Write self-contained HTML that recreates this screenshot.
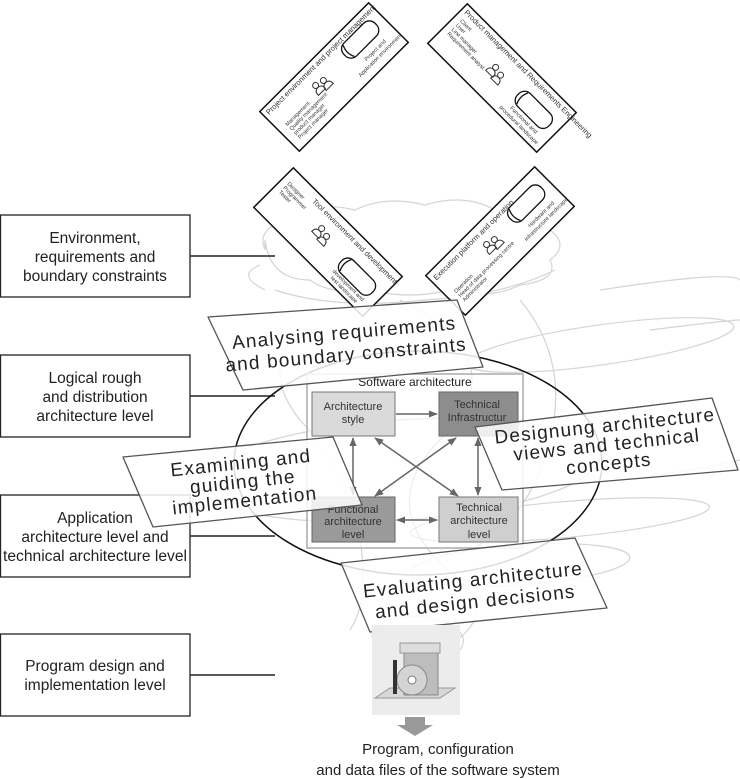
<!DOCTYPE html>
<html><head><meta charset="utf-8"><style>
html,body{margin:0;padding:0;background:#fff;}
svg{display:block;font-family:"Liberation Sans",sans-serif;}
</style></head><body>
<svg width="740" height="779" viewBox="0 0 740 779" xmlns="http://www.w3.org/2000/svg">
<defs>
<marker id="ah" viewBox="0 0 10 10" refX="9" refY="5" markerWidth="6" markerHeight="6" orient="auto-start-reverse"><path d="M0,1 L10,5 L0,9 z" fill="#666"/></marker>
<g id="person" fill="none" stroke="#333" stroke-width="1">
<circle cx="-4" cy="-5" r="3"/><path d="M-9,4 q0,-6 5,-6 q5,0 5,6 z"/>
<circle cx="5" cy="-3" r="3"/><path d="M0,6 q0,-6 5,-6 q5,0 5,6 z"/>
</g>
<g id="cyl" fill="#fff" stroke="#111" stroke-width="1.3">
<rect x="-22" y="-9" width="44" height="18" rx="8"/><path d="M-16,-8 q-4,8 0,16" fill="none"/>
</g>
</defs>

<!-- cloud swirls -->
<g fill="none" stroke="#d4d4d4" stroke-width="1.2">
<path d="M265,250 q-10,-25 30,-30 q20,-20 60,-10 q30,-15 70,-5 q40,-12 70,5 q40,-5 55,20 q20,15 0,30 q10,20 -30,25 q-30,15 -70,5 q-40,10 -80,0 q-40,5 -60,-10 q-40,0 -45,-40z"/>
<path d="M275,290 q60,20 150,10 q80,-5 130,-30"/>
<path d="M260,265 q-25,10 5,25"/>
<ellipse cx="600" cy="345" rx="135" ry="20" transform="rotate(-8 600 345)"/>
<ellipse cx="560" cy="520" rx="150" ry="18" transform="rotate(-5 560 520)"/>
<ellipse cx="520" cy="565" rx="110" ry="20" transform="rotate(-4 520 565)"/>
<path d="M400,300 q120,60 40,140 q-70,70 20,140 q40,40 -20,70"/>
<path d="M520,300 q50,60 30,140 q-20,80 -80,110"/>
<path d="M300,330 q-40,40 0,90 q40,40 60,120 q10,60 -10,90"/>
<ellipse cx="400" cy="470" rx="200" ry="50" transform="rotate(-4 400 470)"/>
<path d="M600,290 q130,-20 140,-10"/>
<path d="M650,330 q80,-10 90,-10"/>
<path d="M620,480 q80,-10 120,-20"/>
<path d="M380,650 q-20,-20 10,-30 q30,-10 60,5 q20,10 10,25"/>
</g>

<!-- left boxes -->
<g fill="#fff" stroke="#222" stroke-width="1.3">
<rect x="0.5" y="215" width="189.5" height="82"/>
<rect x="0.5" y="355" width="189.5" height="82"/>
<rect x="0.5" y="495" width="189.5" height="82"/>
<rect x="0.5" y="634" width="189.5" height="82"/>
</g>
<g stroke="#222" stroke-width="1.5">
<line x1="190" y1="256" x2="275" y2="256"/>
<line x1="190" y1="396" x2="275" y2="396"/>
<line x1="190" y1="536" x2="275" y2="536"/>
<line x1="190" y1="675" x2="275" y2="675"/>
</g>
<g font-size="15.5" fill="#222" text-anchor="middle">
<text x="95" y="243">Environment,</text><text x="95" y="262">requirements and</text><text x="95" y="281">boundary constraints</text>
<text x="95" y="383">Logical rough</text><text x="95" y="402">and distribution</text><text x="95" y="421">architecture level</text>
<text x="95" y="523">Application</text><text x="95" y="542">architecture level and</text><text x="95" y="561" textLength="184" lengthAdjust="spacingAndGlyphs">technical architecture level</text>
<text x="95" y="671">Program design and</text><text x="95" y="690">implementation level</text>
</g>

<!-- rotated cards -->
<g transform="translate(334,77) rotate(-45)">
<rect x="-77" y="-28" width="154" height="56" fill="#fff" stroke="#111" stroke-width="1.5"/>
<text x="-73" y="-19" font-size="7.5" fill="#333">Project environment and project management</text>
<use href="#person" x="-15" y="-2"/>
<use href="#cyl" x="45" y="-8"/>
<text x="48" y="12" font-size="5.5" fill="#333" text-anchor="middle">Project and</text>
<text x="48" y="19" font-size="5.5" fill="#333" text-anchor="middle">Application environment</text>
<g font-size="5.5" fill="#333"><text x="-68" y="2">Management</text><text x="-68" y="8">Quality management</text><text x="-68" y="14">product manager</text><text x="-68" y="20">Project manager</text></g>
</g>
<g transform="translate(502,78) rotate(45)">
<rect x="-77" y="-28" width="154" height="56" fill="#fff" stroke="#111" stroke-width="1.5"/>
<text x="-73" y="-19" font-size="7.5" fill="#333">Product management and Requirements Engineering</text>
<use href="#person" x="-8" y="2"/>
<use href="#cyl" x="45" y="0"/>
<text x="45" y="16" font-size="5.5" fill="#333" text-anchor="middle">Functional and</text>
<text x="45" y="23" font-size="5.5" fill="#333" text-anchor="middle">procedural landscape</text>
<g font-size="5.5" fill="#333"><text x="-70" y="-10">Client</text><text x="-70" y="-4">User</text><text x="-70" y="2">Line manager</text><text x="-70" y="8">Requirement analyst</text></g>
</g>
<g transform="translate(328,242) rotate(45)">
<rect x="-77" y="-28" width="154" height="56" fill="#fff" stroke="#111" stroke-width="1.5"/>
<text x="-40" y="-17" font-size="7.5" fill="#333">Tool environment and development</text>
<use href="#person" x="-10" y="0"/>
<use href="#cyl" x="45" y="4"/>
<text x="45" y="18" font-size="5.5" fill="#333" text-anchor="middle">development and</text>
<text x="45" y="24" font-size="5.5" fill="#333" text-anchor="middle">test landscape</text>
<g font-size="5.5" fill="#333"><text x="-70" y="-12">Designer</text><text x="-70" y="-6">Programmer</text><text x="-70" y="0">Tester</text></g>
</g>
<g transform="translate(500,241) rotate(-45)">
<rect x="-77" y="-28" width="154" height="56" fill="#fff" stroke="#111" stroke-width="1.5"/>
<text x="-73" y="-17" font-size="7.5" fill="#333">Execution platform and operation</text>
<use href="#person" x="-8" y="-2"/>
<use href="#cyl" x="45" y="-8"/>
<text x="48" y="12" font-size="5.5" fill="#333" text-anchor="middle">Hardware and</text>
<text x="48" y="19" font-size="5.5" fill="#333" text-anchor="middle">infrastructure landscape</text>
<g font-size="5.5" fill="#333"><text x="-68" y="6">Operation</text><text x="-68" y="12">Head of data processing centre</text><text x="-68" y="18">Administrator</text></g>
</g>

<!-- ellipse -->
<ellipse cx="418" cy="463" rx="184" ry="112" fill="none" stroke="#111" stroke-width="1.5"/>

<!-- Software architecture -->
<rect x="307" y="374" width="216" height="174" fill="#fff" fill-opacity="0.6" stroke="#aaa" stroke-width="1.5"/>
<text x="415" y="386" font-size="12" text-anchor="middle" fill="#222">Software architecture</text>
<rect x="312" y="392" width="83" height="44" fill="#dadada" stroke="#777"/>
<rect x="439" y="392" width="79" height="44" fill="#8d8d8d" stroke="#666"/>
<rect x="312" y="497" width="83" height="45" fill="#9a9a9a" stroke="#666"/>
<rect x="439" y="497" width="79" height="45" fill="#cfcfcf" stroke="#777"/>
<g font-size="11" text-anchor="middle" fill="#333">
<text x="353" y="410">Architecture</text><text x="353" y="423">style</text>
<text x="477" y="408">Technical</text><text x="477" y="421">Infrastructur</text>
<text x="353" y="513">Functional</text><text x="353" y="525">architecture</text><text x="353" y="538">level</text>
<text x="479" y="511">Technical</text><text x="479" y="524">architecture</text><text x="479" y="538">level</text>
</g>
<g stroke="#666" stroke-width="1.5" fill="none" marker-end="url(#ah)">
<line x1="396" y1="414" x2="437" y2="414"/>
<line x1="353" y1="438" x2="353" y2="495" marker-start="url(#ah)"/>
<line x1="478" y1="438" x2="478" y2="495" marker-start="url(#ah)"/>
<line x1="397" y1="520" x2="437" y2="520" marker-start="url(#ah)"/>
<line x1="375" y1="438" x2="458" y2="496" marker-start="url(#ah)"/>
<line x1="456" y1="438" x2="375" y2="496" marker-start="url(#ah)"/>
</g>

<!-- activity labels -->
<g fill="#fff" fill-opacity="0.85" stroke="#555" stroke-width="1.3" stroke-linejoin="round">
<path d="M208,317 L457,300 L483,367 L243,390 Z"/>
<path d="M123,457 L333,437 L362,505 L153,527 Z"/>
<path d="M475,427 L712,398 L738,470 L502,490 Z"/>
<path d="M341,563 L575,538 L607,608 L370,632 Z"/>
</g>
<g font-size="19" fill="#222" text-anchor="middle" letter-spacing="1.2">
<g transform="translate(345,343) rotate(-5)"><text x="0" y="-4">Analysing requirements</text><text x="0" y="18">and boundary constraints</text></g>
<g transform="translate(243,484) rotate(-6)"><text x="0" y="-15">Examining and</text><text x="0" y="4">guiding the</text><text x="0" y="23">implementation</text></g>
<g transform="translate(607,447) rotate(-6)"><text x="0" y="-15">Designung architecture</text><text x="0" y="4">views and technical</text><text x="0" y="23">concepts</text></g>
<g transform="translate(474,590) rotate(-6)"><text x="0" y="-4">Evaluating architecture</text><text x="0" y="18">and design decisions</text></g>
</g>

<!-- bottom icon -->
<rect x="372" y="625" width="88" height="90" fill="#ececec"/>
<path d="M375,698 L440,698 L455,688 L390,688 Z" fill="#d8d8d8" stroke="#999"/>
<rect x="404" y="650" width="34" height="45" fill="#bdbdbd" stroke="#888"/>
<rect x="400" y="643" width="40" height="10" fill="#ddd" stroke="#999"/>
<circle cx="412" cy="680" r="15" fill="#d4d4d4" stroke="#888"/>
<circle cx="412" cy="680" r="4" fill="#fff" stroke="#777"/>
<rect x="393" y="660" width="4" height="34" fill="#333"/>
<path d="M405,717 L425,717 L425,725 L433,725 L415,736 L397,725 L405,725 Z" fill="#999"/>

<g font-size="15" fill="#222" text-anchor="middle">
<text x="438" y="754">Program, configuration</text>
<text x="438" y="775">and data files of the software system</text>
</g>
</svg>
</body></html>
